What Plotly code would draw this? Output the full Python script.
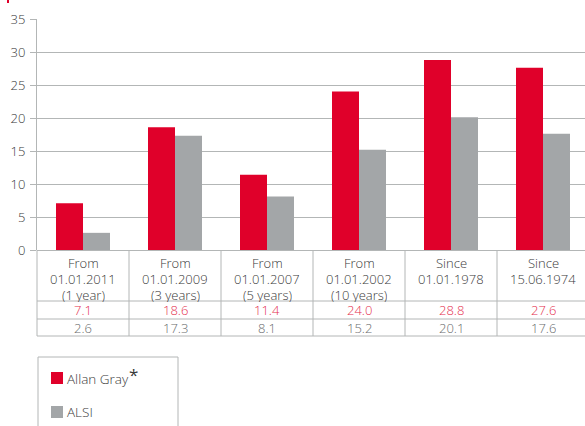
import plotly.graph_objects as go

categories = [
    "From<br>01.01.2011<br>(1 year)",
    "From<br>01.01.2009<br>(3 years)",
    "From<br>01.01.2007<br>(5 years)",
    "From<br>01.01.2002<br>(10 years)",
    "Since<br>01.01.1978",
    "Since<br>15.06.1974",
]
allan_gray = [7.1, 18.6, 11.4, 24.0, 28.8, 27.6]
alsi = [2.6, 17.3, 8.1, 15.2, 20.1, 17.6]
y_ticks = [0, 5, 10, 15, 20, 25, 30, 35]

RED = "#E0002A"
GREY = "#A3A6A8"
RED_TXT = "#E5304F"
GREY_TXT = "#6A6C6E"
LINE = "#B3B6B6"
TXT = "#3A3A3A"
FONT = "Open Sans"
WEIGHT = 350

W, H = 585, 426
L, R, T, B = 37, 0, 19, 176
PW = W - L - R
PH = H - T - B


def px(x):
    return (x - L) / PW


def py(y):
    return (H - B - y) / PH


def fnt(color, size=13, weight=WEIGHT):
    return dict(family=FONT, size=size, color=color, weight=weight)


idx = list(range(len(categories)))
col_w = 92  # pixels per category column
x_max = -0.5 + PW / col_w

fig = go.Figure()
fig.add_trace(go.Bar(x=idx, y=allan_gray, name="Allan Gray", marker_color=RED,
                     marker_line_width=0, showlegend=False))
fig.add_trace(go.Bar(x=idx, y=alsi, name="ALSI", marker_color=GREY,
                     marker_line_width=0, showlegend=False))

shapes = []
annotations = []

# table lines
for yy in [301, 319, 336]:
    shapes.append(dict(type="line", xref="paper", yref="paper", x0=0, x1=1,
                       y0=py(yy), y1=py(yy), line=dict(color=LINE, width=1)))
shapes.append(dict(type="line", xref="paper", yref="paper", x0=0, x1=0,
                   y0=py(250), y1=py(336), line=dict(color=LINE, width=1)))
for i in idx[1:]:
    shapes.append(dict(type="line", xref="x", yref="paper", x0=i - 0.5, x1=i - 0.5,
                       y0=py(250), y1=py(336), line=dict(color=LINE, width=1)))

# table texts
line_y = [262, 278, 294]
for i, (c, a, b) in enumerate(zip(categories, allan_gray, alsi)):
    for k, part in enumerate(c.split("<br>")):
        annotations.append(dict(x=i, y=py(line_y[k]), xref="x", yref="paper", text=part,
                                showarrow=False, yanchor="middle", xanchor="center",
                                height=15, borderpad=0, font=fnt(TXT)))
    annotations.append(dict(x=i, y=py(310), xref="x", yref="paper", text=f"{a:.1f}",
                            showarrow=False, yanchor="middle", xanchor="center",
                            height=14, borderpad=0, font=fnt(RED_TXT)))
    annotations.append(dict(x=i, y=py(327.5), xref="x", yref="paper", text=f"{b:.1f}",
                            showarrow=False, yanchor="middle", xanchor="center",
                            height=14, borderpad=0, font=fnt(GREY_TXT)))

# legend box (runs off the bottom)
shapes.append(dict(type="rect", xref="paper", yref="paper", x0=px(38), x1=px(178),
                   y0=py(357), y1=py(450), line=dict(color=LINE, width=1),
                   fillcolor="rgba(0,0,0,0)"))
shapes.append(dict(type="rect", xref="paper", yref="paper", x0=px(51), x1=px(63),
                   y0=py(372), y1=py(384), line=dict(width=0), fillcolor=RED))
shapes.append(dict(type="rect", xref="paper", yref="paper", x0=px(51), x1=px(63),
                   y0=py(406), y1=py(418), line=dict(width=0), fillcolor=GREY))
annotations.append(dict(x=px(65), y=py(379), xref="paper", yref="paper",
                        text="Allan Gray", showarrow=False, xanchor="left",
                        yanchor="middle", font=fnt(TXT, 13.5)))
annotations.append(dict(x=px(127), y=py(374), xref="paper", yref="paper",
                        text="*", showarrow=False, xanchor="left",
                        yanchor="middle", font=fnt(TXT, 17, 400)))
annotations.append(dict(x=px(65), y=py(412), xref="paper", yref="paper",
                        text="ALSI", showarrow=False, xanchor="left",
                        yanchor="middle", font=fnt(TXT, 13.5)))

# small red mark at the top left
shapes.append(dict(type="rect", xref="paper", yref="paper", x0=px(7), x1=px(9),
                   y0=py(0), y1=py(3), line=dict(width=0), fillcolor=RED))

fig.update_layout(
    width=W, height=H,
    margin=dict(l=L, r=R, t=T, b=B, pad=0),
    paper_bgcolor="white", plot_bgcolor="white",
    barmode="group", bargap=0.413, bargroupgap=0,
    font=fnt(TXT),
    shapes=shapes, annotations=annotations,
    xaxis=dict(range=[-0.5, x_max], showticklabels=False, ticks="",
               showgrid=False, zeroline=False, showline=False, fixedrange=True),
    yaxis=dict(range=[0, 35], tickvals=y_ticks, ticks="outside", ticklen=6,
               tickcolor=LINE, tickwidth=1, showgrid=True, gridcolor=LINE,
               gridwidth=1, zeroline=True, zerolinecolor=LINE, zerolinewidth=1,
               showline=True, linecolor=LINE, linewidth=1, ticklabelstandoff=2,
               tickfont=fnt(TXT), fixedrange=True),
)

fig.write_html(
    "out.html",
    config={"displayModeBar": False},
    post_script="document.body.style.margin='0';document.body.style.overflow='hidden';",
)
